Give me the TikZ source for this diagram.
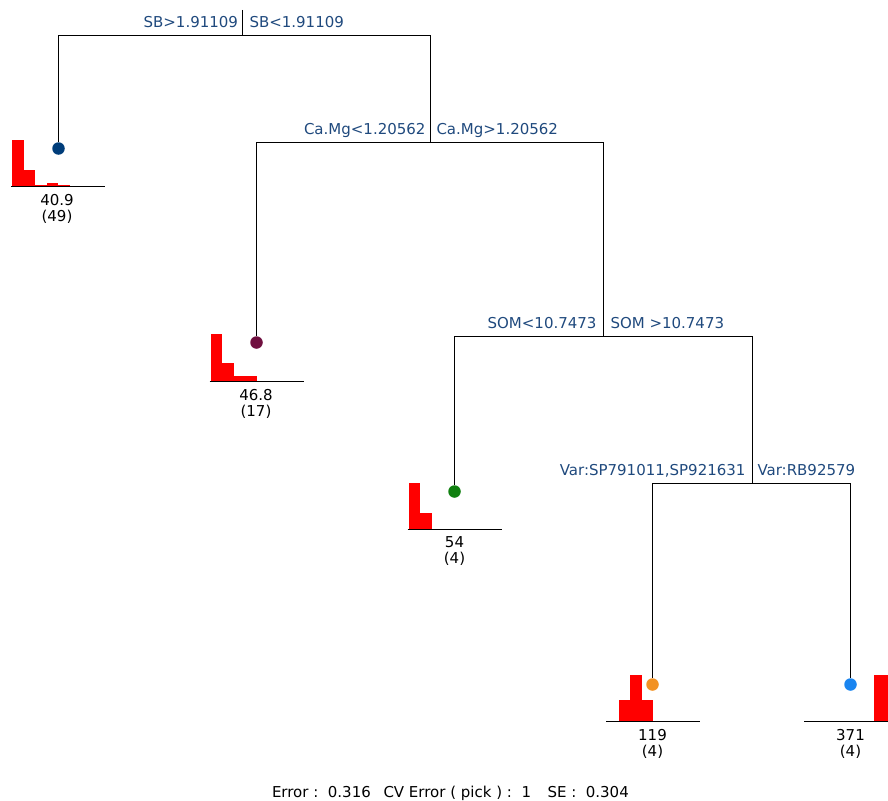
\documentclass[tikz,border=0pt]{standalone}
\usepackage{fontspec}
\setmainfont{DejaVu Sans}
\definecolor{splitblue}{RGB}{31,73,125}
\definecolor{leafnavy}{RGB}{0,61,122}
\definecolor{leafplum}{RGB}{112,16,64}
\definecolor{leafgreen}{RGB}{16,128,16}
\definecolor{leaforange}{RGB}{242,146,36}
\definecolor{leafsky}{RGB}{26,133,240}
\definecolor{barred}{RGB}{255,0,0}

\begin{document}
\begin{tikzpicture}[x=1pt, y=-1pt, line width=1pt,
  every node/.style={font=\fontsize{15}{16}\selectfont, inner sep=0pt},
  splitlab/.style={text=splitblue},
  dot/.style={circle, minimum size=12.5pt, fill=#1},
  bar/.style={fill=barred}]
\clip (0,0) rectangle (888,800);

% splits
\coordinate (root) at (242.5,10);
\coordinate (s1) at (242.5,35.5);
\coordinate (s2) at (430.5,142.5);
\coordinate (s3) at (603.5,336.5);
\coordinate (s4) at (752.5,483.5);

% leaves
\node[dot=leafnavy] (l1) at (58.5,148.5) {};
\node[dot=leafplum] (l2) at (256.5,342.5) {};
\node[dot=leafgreen] (l3) at (454.5,491.5) {};
\node[dot=leaforange] (l4) at (652.5,684.5) {};
\node[dot=leafsky] (l5) at (850.5,684.5) {};

\draw (root) -- (s1);
\draw (l1) |- (s1) -| (s2);
\draw (l2) |- (s2) -| (s3);
\draw (l3) |- (s3) -| (s4);
\draw (l4) |- (s4) -| (l5);

\node[splitlab, anchor=base east] (sb-gt) at (238.5,27.5) {SB>1.91109};
\node[splitlab, anchor=base west] (sb-lt) at (249,27.5) {SB<1.91109};
\node[splitlab, anchor=base east] (camg-lt) at (426,134) {Ca.Mg<1.20562};
\node[splitlab, anchor=base west] (camg-gt) at (436,134) {Ca.Mg>1.20562};
\node[splitlab, anchor=base east] (som-lt) at (597,328) {SOM<10.7473};
\node[splitlab, anchor=base west] (som-gt) at (610,328) {SOM >10.7473};
\node[splitlab, anchor=base east] (var-sp) at (746,475) {Var:SP791011,SP921631};
\node[splitlab, anchor=base west] (var-rb) at (757,475) {Var:RB92579};

% histograms
\coordinate (b1) at (11,186.5);
\coordinate (b2) at (209.5,381.5);
\coordinate (b3) at (407.5,529.5);
\coordinate (b4) at (606,721.5);
\coordinate (b5) at (804,721.5);
\foreach \i/\h in {0/47,1/17,2/2,3/3.5,4/2}
  \fill[bar] (b1) ++(\i*11.5+1,0) rectangle ++(11.5,-\h);
\foreach \i/\h in {0/48,1/19,2/6,3/6}
  \fill[bar] (b2) ++(\i*11.5+1,0) rectangle ++(11.5,-\h);
\foreach \i/\h in {0/47,1/17}
  \fill[bar] (b3) ++(\i*11.5+1,0) rectangle ++(11.5,-\h);
\foreach \i/\h in {1/22,2/47,3/22}
  \fill[bar] (b4) ++(\i*11.5+1,0) rectangle ++(11.5,-\h);
\fill[bar] (b5) ++(70,0) rectangle ++(20,-47);
\foreach \b in {b1,b2,b3,b4,b5}
  \draw (\b) -- ++(94,0);

\node[anchor=base] (v1) at (57,205.5) {40.9};
\node[anchor=base] (n1) at (57,221.5) {(49)};
\node[anchor=base] (v2) at (256,400.5) {46.8};
\node[anchor=base] (n2) at (256,416.5) {(17)};
\node[anchor=base] (v3) at (454.5,547.5) {54};
\node[anchor=base] (n3) at (454.5,563.5) {(4)};
\node[anchor=base] (v4) at (652.5,740.5) {119};
\node[anchor=base] (n4) at (652.5,756.5) {(4)};
\node[anchor=base] (v5) at (850.5,740.5) {371};
\node[anchor=base] (n5) at (850.5,756.5) {(4)};

% footer
\node[anchor=base west] (err) at (271.5,797.5) {Error :~~0.316};
\node[anchor=base west] (cverr) at (383,797.5) {CV Error ( pick ) :~~1};
\node[anchor=base west] (se) at (547,797.5) {SE :~~0.304};
\end{tikzpicture}
\end{document}
